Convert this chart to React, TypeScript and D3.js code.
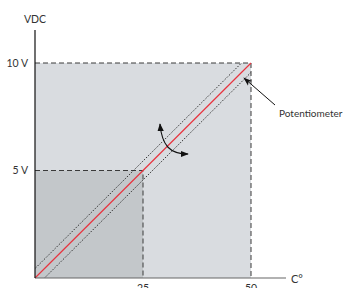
import React from 'react';
import * as d3 from 'd3';

// values
const xTicks = [25, 50];
const yTicks = [5, 10];
const yTickLabels = ['5 V', '10 V'];
const regions = [
  { x: 50, y: 10, fill: '#d9dce0' },
  { x: 25, y: 5, fill: '#c3c7ca' },
];
const curve = [0, 50];
const bandOffset = 2.2; // °C either side of the curve

export default function App() {
  const W = 344, H = 288;
  const x = d3.scaleLinear().domain([0, 50]).range([35, 251]);
  const y = d3.scaleLinear().domain([0, 10]).range([278, 63]);
  const line = d3.line<number>().x(d => x(d)).y(d => y(d / 5));

  const clip = 'url(#plotClip)';
  const font = 'Lato, "Open Sans", sans-serif';

  return (
    <svg width={W} height={H} style={{ position: 'absolute', left: 0, top: 0 }}>
      <defs>
        <clipPath id="plotClip">
          <rect x={x(0)} y={y(10)} width={x(50) - x(0)} height={y(0) - y(10)} />
        </clipPath>
        <marker id="arr" viewBox="0 0 10 10" refX="9" refY="5" markerWidth="8" markerHeight="8" markerUnits="userSpaceOnUse" orient="auto-start-reverse">
          <path d="M0,1 L10,5 L0,9 z" fill="#111" />
        </marker>
        <marker id="arr2" viewBox="0 0 10 10" refX="9" refY="5" markerWidth="9" markerHeight="9" markerUnits="userSpaceOnUse" orient="auto">
          <path d="M0,1.5 L10,5 L0,8.5 L2.5,5 z" fill="#111" />
        </marker>
      </defs>

      {regions.map((r, i) => (
        <rect key={i} x={x(0)} y={y(r.y)} width={x(r.x) - x(0)} height={y(0) - y(r.y)} fill={r.fill} />
      ))}
      {regions.map((r, i) => (
        <path key={'d' + i}
          d={`M${x(0)},${y(r.y)} H${x(r.x)} V${y(0)}`}
          fill="none" stroke="#3a3a3a" strokeWidth={1} strokeDasharray="5,3" />
      ))}

      {[-bandOffset, bandOffset].map((o, i) => (
        <path key={'b' + i} clipPath={clip}
          d={d3.line<number>().x(d => x(d + o)).y(d => y(d / 5))([-10, 60]) || ''}
          fill="none" stroke="#333" strokeWidth={1} strokeDasharray="1.5,1.5" />
      ))}
      <path d={line(curve) || ''} fill="none" stroke="#e8343f" strokeWidth={1.2} />

      {/* axes */}
      <line x1={x(0)} x2={286} y1={y(0)} y2={y(0)} stroke="#666" strokeWidth={1.2} />
      <line x1={x(0)} x2={x(0)} y1={30} y2={y(0)} stroke="#111" strokeWidth={1.2} />

      <text x={x(0)} y={23} textAnchor="middle" fontFamily={font} fontSize={10.5} fill="#333">VDC</text>
      {yTicks.map((t, i) => (
        <text key={t} x={28} y={y(t) + 3.5} textAnchor="end" fontFamily={font} fontSize={10.5} fill="#333">{yTickLabels[i]}</text>
      ))}
      {xTicks.map(t => (
        <text key={t} x={x(t)} y={292} textAnchor="middle" fontFamily={font} fontSize={10.5} fill="#333">{t}</text>
      ))}
      <text x={291} y={283} fontFamily={font} fontSize={11} fill="#333">C°</text>

      {/* rotation arrow */}
      <path d="M188,154 C170,154 162,146 160,124" fill="none" stroke="#111" strokeWidth={1.1}
        markerStart="url(#arr)" markerEnd="url(#arr)" />

      {/* potentiometer callout */}
      <line x1={275} y1={105} x2={244} y2={78} stroke="#111" strokeWidth={1} markerEnd="url(#arr2)" />
      <text x={279} y={117} fontFamily={font} fontSize={10} fill="#333">Potentiometer</text>
    </svg>
  );
}
